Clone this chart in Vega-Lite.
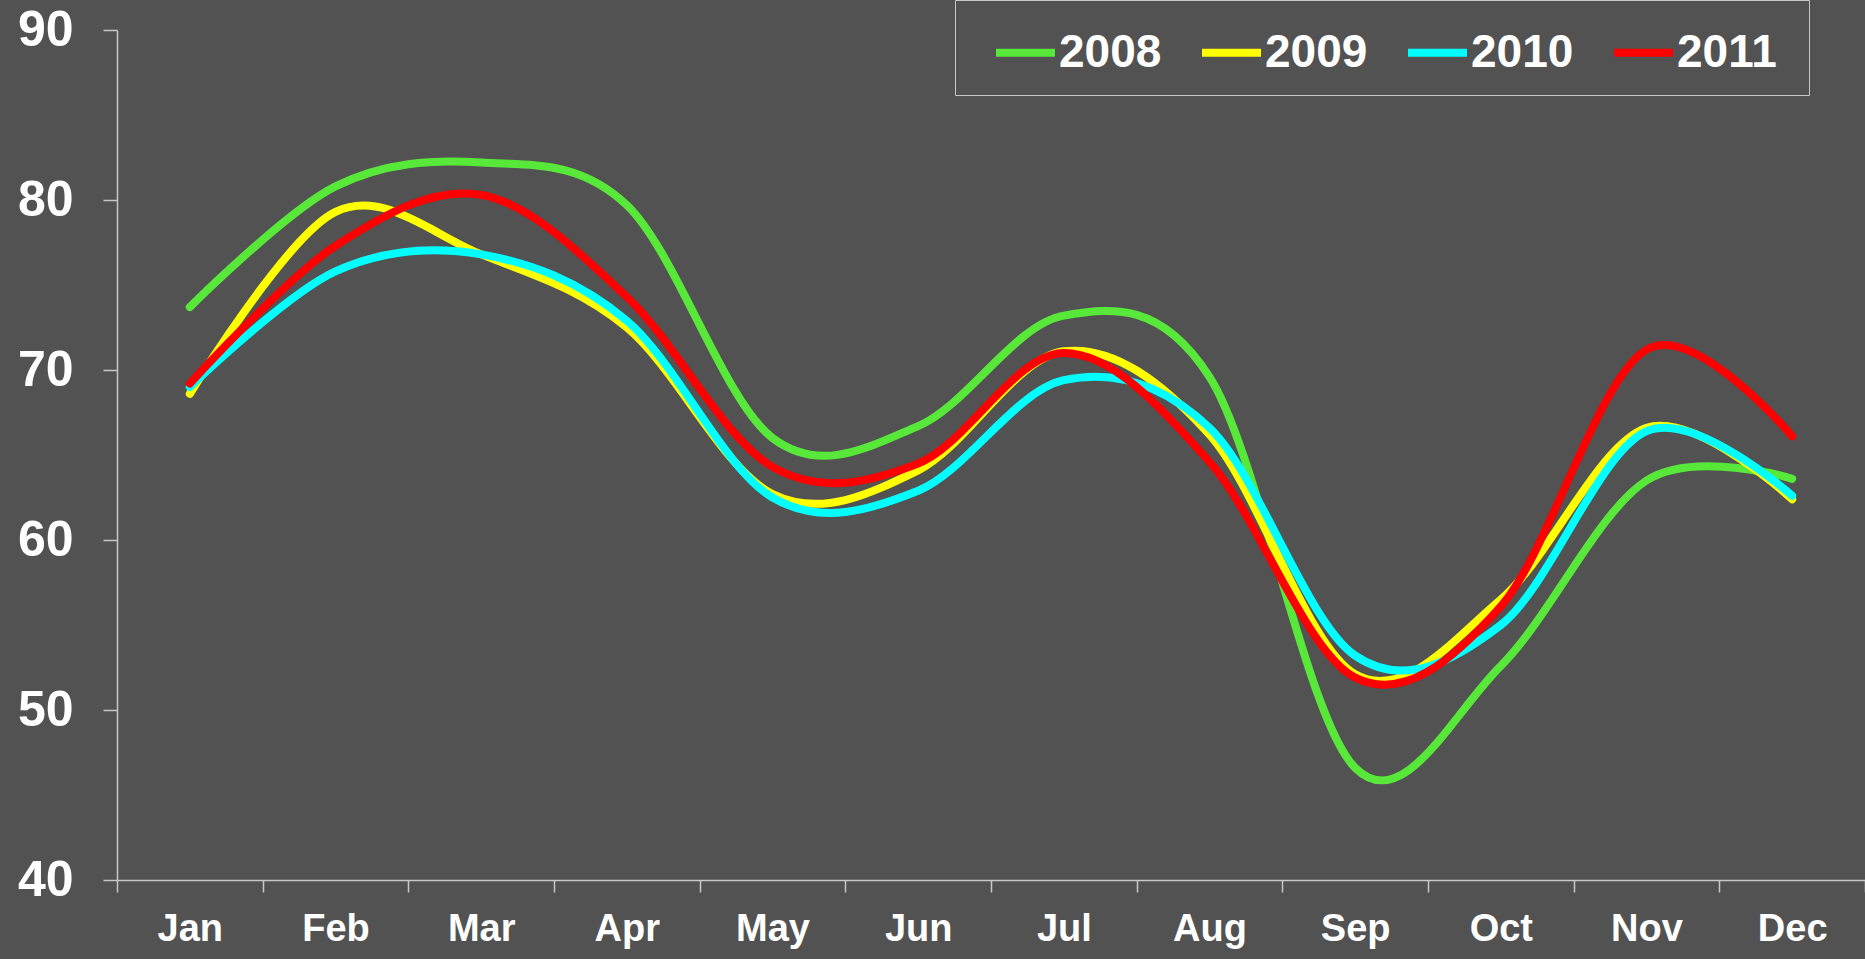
{
  "$schema": "https://vega.github.io/schema/vega-lite/v6.json",
  "width": 1748,
  "height": 850,
  "autosize": "none",
  "padding": {"left": 117, "top": 30, "right": 0, "bottom": 79},
  "background": "#525252",
  "config": {"view": {"stroke": null}, "font": "Liberation Sans"},
  "data": {
    "values": [
      {"year": "2008", "month": "Jan", "value": 73.7},
      {"year": "2008", "month": "Feb", "value": 80.8},
      {"year": "2008", "month": "Mar", "value": 82.2},
      {"year": "2008", "month": "Apr", "value": 79.7},
      {"year": "2008", "month": "May", "value": 66.0},
      {"year": "2008", "month": "Jun", "value": 66.7},
      {"year": "2008", "month": "Jul", "value": 73.2},
      {"year": "2008", "month": "Aug", "value": 69.6},
      {"year": "2008", "month": "Sep", "value": 46.6},
      {"year": "2008", "month": "Oct", "value": 52.6},
      {"year": "2008", "month": "Nov", "value": 63.5},
      {"year": "2008", "month": "Dec", "value": 63.6},
      {"year": "2009", "month": "Jan", "value": 68.6},
      {"year": "2009", "month": "Feb", "value": 79.3},
      {"year": "2009", "month": "Mar", "value": 76.8},
      {"year": "2009", "month": "Apr", "value": 72.5},
      {"year": "2009", "month": "May", "value": 62.7},
      {"year": "2009", "month": "Jun", "value": 64.1},
      {"year": "2009", "month": "Jul", "value": 71.1},
      {"year": "2009", "month": "Aug", "value": 66.2},
      {"year": "2009", "month": "Sep", "value": 52.1},
      {"year": "2009", "month": "Oct", "value": 56.5},
      {"year": "2009", "month": "Nov", "value": 66.6},
      {"year": "2009", "month": "Dec", "value": 62.4},
      {"year": "2010", "month": "Jan", "value": 69.0},
      {"year": "2010", "month": "Feb", "value": 75.8},
      {"year": "2010", "month": "Mar", "value": 76.8},
      {"year": "2010", "month": "Apr", "value": 72.9},
      {"year": "2010", "month": "May", "value": 62.5},
      {"year": "2010", "month": "Jun", "value": 62.9},
      {"year": "2010", "month": "Jul", "value": 69.4},
      {"year": "2010", "month": "Aug", "value": 66.6},
      {"year": "2010", "month": "Sep", "value": 53.2},
      {"year": "2010", "month": "Oct", "value": 55.0},
      {"year": "2010", "month": "Nov", "value": 66.4},
      {"year": "2010", "month": "Dec", "value": 62.6},
      {"year": "2011", "month": "Jan", "value": 69.2},
      {"year": "2011", "month": "Feb", "value": 77.3},
      {"year": "2011", "month": "Mar", "value": 80.3},
      {"year": "2011", "month": "Apr", "value": 74.3},
      {"year": "2011", "month": "May", "value": 64.3},
      {"year": "2011", "month": "Jun", "value": 64.5},
      {"year": "2011", "month": "Jul", "value": 71.0},
      {"year": "2011", "month": "Aug", "value": 64.6},
      {"year": "2011", "month": "Sep", "value": 51.9},
      {"year": "2011", "month": "Oct", "value": 56.1},
      {"year": "2011", "month": "Nov", "value": 71.2},
      {"year": "2011", "month": "Dec", "value": 66.1}
    ]
  },
  "mark": {"type": "line", "interpolate": "cardinal", "strokeWidth": 8, "strokeCap": "round", "strokeJoin": "round"},
  "encoding": {
    "x": {
      "field": "month",
      "type": "ordinal",
      "sort": ["Jan", "Feb", "Mar", "Apr", "May", "Jun", "Jul", "Aug", "Sep", "Oct", "Nov", "Dec"],
      "bandPosition": 0.5,
      "scale": {"type": "band", "paddingInner": 0, "paddingOuter": 0},
      "axis": {
        "title": null,
        "labelAngle": 0,
        "tickBand": "extent",
        "grid": false,
        "domainColor": "#c8c8c8",
        "domainWidth": 1.5,
        "tickColor": "#c8c8c8",
        "tickWidth": 1.5,
        "tickSize": 12,
        "labelFont": "Liberation Sans",
        "labelFontSize": 38,
        "labelFontWeight": "bold",
        "labelColor": "#ffffff",
        "labelPadding": 18
      }
    },
    "y": {
      "field": "value",
      "type": "quantitative",
      "scale": {"domain": [40, 90], "nice": false, "zero": false},
      "axis": {
        "title": null,
        "values": [40, 50, 60, 70, 80, 90],
        "grid": false,
        "domainColor": "#c8c8c8",
        "domainWidth": 1.5,
        "tickColor": "#c8c8c8",
        "tickWidth": 1.5,
        "tickSize": 14,
        "labelFont": "Liberation Sans",
        "labelFontSize": 50,
        "labelFontWeight": "bold",
        "labelColor": "#ffffff",
        "labelPadding": 30
      }
    },
    "color": {
      "field": "year",
      "type": "nominal",
      "scale": {"domain": ["2008", "2009", "2010", "2011"], "range": ["#58E83A", "#FFFF00", "#00FFFF", "#FF0000"]},
      "legend": {
        "title": "\u00a0",
        "titleOrient": "right",
        "titleFontSize": 46,
        "titlePadding": 13,
        "titleColor": "#525252",
        "orient": "none",
        "legendX": 838,
        "legendY": -30,
        "direction": "horizontal",
        "columns": 4,
        "symbolType": "stroke",
        "symbolSize": 3481,
        "symbolStrokeWidth": 8,
        "symbolOffset": 18,
        "labelOffset": 0,
        "labelFont": "Liberation Sans",
        "labelFontSize": 46,
        "labelFontWeight": "bold",
        "labelColor": "#ffffff",
        "labelLimit": 300,
        "columnPadding": 18,
        "padding": 19,
        "strokeColor": "#c8c8c8"
      }
    }
  }
}
